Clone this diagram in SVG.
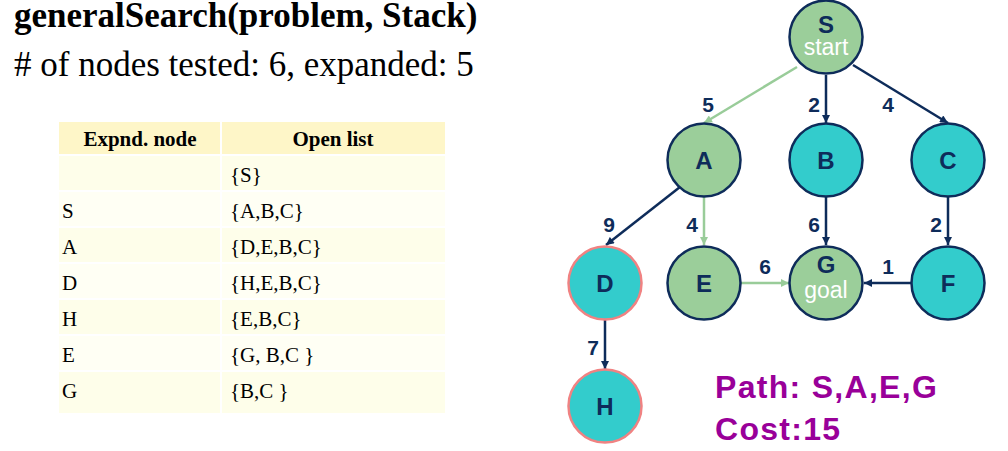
<svg xmlns="http://www.w3.org/2000/svg" width="1008" height="451" viewBox="0 0 1008 451">
<style>
.title{font-family:"Liberation Serif",serif;font-size:35px;fill:#000}
.th{font-family:"Liberation Serif",serif;font-size:21px;font-weight:bold;fill:#000;text-anchor:middle}
.td{font-family:"Liberation Serif",serif;font-size:21px;fill:#000}
.nl{font-family:"Liberation Sans",Arial,sans-serif;font-size:24px;font-weight:bold;fill:#0E2C5A;text-anchor:middle}
.sub{font-family:"Liberation Sans",Arial,sans-serif;font-size:23px;fill:#fff;text-anchor:middle}
.el{font-family:"Liberation Sans",Arial,sans-serif;font-size:21px;font-weight:bold;fill:#0E2C5A;text-anchor:middle}
.green{fill:#9BCE9A;stroke:#0E2C5A;stroke-width:2.5}
.teal{fill:#33CCCC;stroke:#0E2C5A;stroke-width:2.5}
.tealp{fill:#33CCCC;stroke:#F08282;stroke-width:2.5}
.e{stroke:#0E2C5A;stroke-width:2.5;fill:none;marker-end:url(#ad)}
.eg{stroke:#99CC99;stroke-width:2.5;fill:none;marker-end:url(#ag)}
.path{font-family:"Liberation Sans",Arial,sans-serif;font-size:32px;font-weight:bold;fill:#990099;letter-spacing:1.3px}
</style>
<defs>
<marker id="ad" viewBox="0 0 10 10" refX="10" refY="5" markerWidth="9" markerHeight="8" markerUnits="userSpaceOnUse" orient="auto"><path d="M0,0 L10,5 L0,10 z" fill="#0E2C5A"/></marker>
<marker id="ag" viewBox="0 0 10 10" refX="10" refY="5" markerWidth="9" markerHeight="8" markerUnits="userSpaceOnUse" orient="auto"><path d="M0,0 L10,5 L0,10 z" fill="#99CC99"/></marker>
</defs>
<rect width="1008" height="451" fill="#fff"/>
<g id="title">
<text class="title" x="14" y="27" font-weight="bold">generalSearch(problem, Stack)</text>
<text class="title" x="14" y="76"># of nodes tested: 6, expanded: 5</text>
</g>
<g id="table">
<rect x="59" y="122" width="161" height="32" fill="#FEF6C8"/>
<rect x="222" y="122" width="223" height="32" fill="#FEF6C8"/>
<g fill="#FEFEEA">
<rect x="59" y="156" width="161" height="34"/><rect x="222" y="156" width="223" height="34"/>
<rect x="59" y="228" width="161" height="34"/><rect x="222" y="228" width="223" height="34"/>
<rect x="59" y="300" width="161" height="34"/><rect x="222" y="300" width="223" height="34"/>
<rect x="59" y="372" width="161" height="41"/><rect x="222" y="372" width="223" height="41"/>
</g>
<g fill="#FFFFF4">
<rect x="59" y="192" width="161" height="34"/><rect x="222" y="192" width="223" height="34"/>
<rect x="59" y="264" width="161" height="34"/><rect x="222" y="264" width="223" height="34"/>
<rect x="59" y="336" width="161" height="34"/><rect x="222" y="336" width="223" height="34"/>
</g>
<text class="th" x="140" y="146">Expnd. node</text>
<text class="th" x="333" y="146">Open list</text>
<text class="td" x="230" y="182">{S}</text>
<text class="td" x="62" y="218">S</text><text class="td" x="230" y="218">{A,B,C}</text>
<text class="td" x="62" y="254">A</text><text class="td" x="230" y="254">{D,E,B,C}</text>
<text class="td" x="62" y="290">D</text><text class="td" x="230" y="290">{H,E,B,C}</text>
<text class="td" x="62" y="326">H</text><text class="td" x="230" y="326">{E,B,C}</text>
<text class="td" x="62" y="362">E</text><text class="td" x="230" y="362">{G, B,C }</text>
<text class="td" x="62" y="398">G</text><text class="td" x="230" y="398">{B,C }</text>
</g>
<g id="connectors">
<line class="eg" x1="797" y1="67" x2="704" y2="123"/>
<line class="e" x1="826" y1="75" x2="826" y2="123"/>
<line class="e" x1="853" y1="65" x2="948" y2="123"/>
<line class="e" x1="680" y1="187" x2="606" y2="245"/>
<line class="eg" x1="704" y1="197" x2="704" y2="245"/>
<line class="e" x1="826" y1="197" x2="826" y2="245"/>
<line class="e" x1="948" y1="197" x2="948" y2="245"/>
<line class="eg" x1="741" y1="283" x2="789" y2="283"/>
<line class="e" x1="911" y1="283" x2="864" y2="283"/>
<line class="e" x1="605" y1="320" x2="605" y2="369"/>
<text class="el" x="708" y="112">5</text>
<text class="el" x="814" y="112">2</text>
<text class="el" x="888" y="112">4</text>
<text class="el" x="609" y="232">9</text>
<text class="el" x="692" y="232">4</text>
<text class="el" x="814" y="232">6</text>
<text class="el" x="936" y="232">2</text>
<text class="el" x="765" y="274">6</text>
<text class="el" x="888" y="274">1</text>
<text class="el" x="593" y="355">7</text>
</g>
<g id="S"><circle class="green" cx="826" cy="37" r="36.5"/><text class="nl" x="826" y="33">S</text><text class="sub" x="826" y="55">start</text></g>
<g id="A"><circle class="green" cx="704" cy="160" r="36.5"/><text class="nl" x="704" y="169">A</text></g>
<g id="B"><circle class="teal" cx="826" cy="160" r="36.5"/><text class="nl" x="826" y="169">B</text></g>
<g id="C"><circle class="teal" cx="948" cy="160" r="36.5"/><text class="nl" x="948" y="169">C</text></g>
<g id="D"><circle class="tealp" cx="605" cy="283" r="36.5"/><text class="nl" x="605" y="292">D</text></g>
<g id="E"><circle class="green" cx="704" cy="283" r="36.5"/><text class="nl" x="704" y="292">E</text></g>
<g id="G"><circle class="green" cx="826" cy="283" r="36.5"/><text class="nl" x="826" y="273">G</text><text class="sub" x="826" y="298">goal</text></g>
<g id="F"><circle class="teal" cx="948" cy="283" r="36.5"/><text class="nl" x="948" y="292">F</text></g>
<g id="H"><circle class="tealp" cx="605" cy="406" r="36.5"/><text class="nl" x="605" y="415">H</text></g>
<g id="result">
<text class="path" x="715" y="398">Path: S,A,E,G</text>
<text class="path" x="715" y="440">Cost:15</text>
</g>
</svg>
